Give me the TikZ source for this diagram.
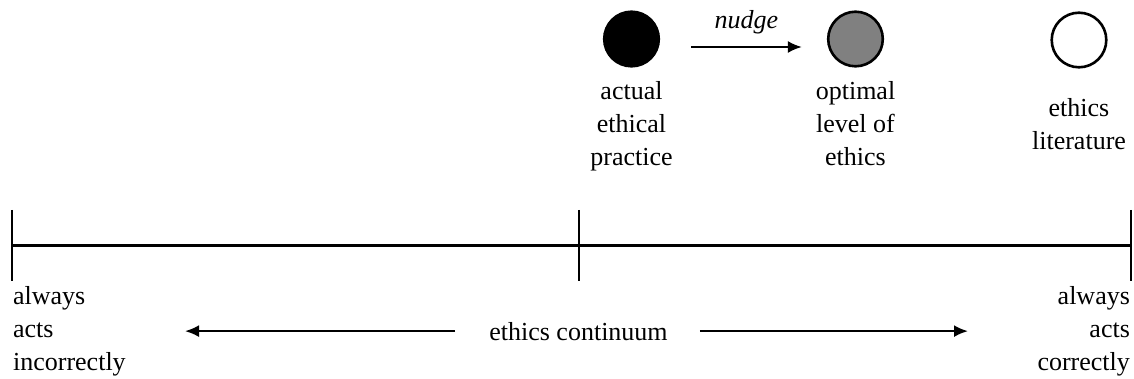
\documentclass[tikz,border=0pt]{standalone}
\usepackage{fontspec}
\setmainfont{Liberation Serif}
\usepackage{xcolor}
\usetikzlibrary{positioning}
\usetikzlibrary{arrows.meta}
\usetikzlibrary{calc}

\begin{document}
\begin{tikzpicture}[x=0.5pt,y=-0.5pt,>={Latex[length=7pt,width=6pt]},
                    line width=1.1pt,
                    dot/.style={circle,draw,line width=1.3pt,minimum size=27.3pt,inner sep=0pt},
                    lbl/.style={inner sep=0pt,font=\fontsize{13}{16.5}\selectfont}]
\useasboundingbox (0,0) rectangle (1134,379);

% the three dots on top
\node[dot,fill=black] (actual) at (631.5,39) {};
\node[dot,fill=gray] (optimal) at (855.5,39) {};
\node[dot,fill=white] (lit) at (1079,40) {};

% base = last line
\node[lbl,align=center,anchor=base] (actualtxt) at (631.5,166) {actual\\ethical\\practice};
\node[lbl,align=center,anchor=base] (optimaltxt) at (855.5,166) {optimal\\level of\\ethics};
\node[lbl,align=center,anchor=base] (littxt) at (1079,150) {ethics\\literature};

\draw[->] ([xshift=15.5pt,yshift=-4pt]actual.east) -- ([xshift=-12.5pt,yshift=-4pt]optimal.west)
      node[midway,above,lbl,yshift=6pt] (nudge) {\itshape nudge};

% the continuum
\coordinate (lo) at (12,245.5);
\coordinate (mid) at (579,245.5);
\coordinate (hi) at (1131,245.5);
\draw (lo) -- (hi);
\foreach \t in {lo,mid,hi}
  \draw ([yshift=17.75pt]\t) -- ([yshift=-17.75pt]\t);

\node[lbl,align=left,anchor=base west] (incorr) at (12,370) {always\\acts\\incorrectly};
\node[lbl,align=right,anchor=base east] (corr) at (1131,370) {always\\acts\\correctly};
\node[lbl,anchor=base] (cont) at (578.5,340) {ethics continuum};

\coordinate (leftend) at (185,331);
\coordinate (rightend) at (968,331);
\draw[->] ([xshift=-16.5pt]cont.west) -- (leftend |- cont.west);
\draw[->] ([xshift=15.5pt]cont.east) -- (rightend |- cont.east);

\end{tikzpicture}
\end{document}
